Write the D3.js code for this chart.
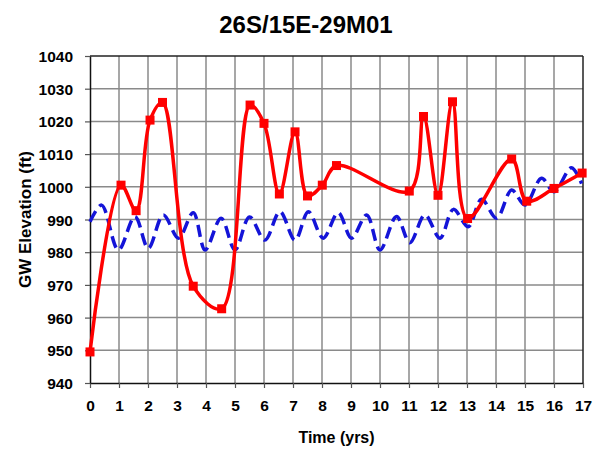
<!DOCTYPE html>
<html><head><meta charset="utf-8">
<script src="https://cdn.jsdelivr.net/npm/d3@7"></script>
<style>body{margin:0;background:#fff}svg{display:block;font-family:"Liberation Sans",Arial,sans-serif}</style>
</head><body><svg id="c" width="603" height="450"></svg>
<script>
const title = "26S/15E-29M01";
const xLabel = "Time (yrs)";
const yLabel = "GW Elevation (ft)";
const xTicks = [0,1,2,3,4,5,6,7,8,9,10,11,12,13,14,15,16,17];
const yTicks = [940,950,960,970,980,990,1000,1010,1020,1030,1040];
// observed water levels (red)
const obsTime = [0,1.07,1.59,2.07,2.5,3.56,4.54,5.52,6.0,6.53,7.07,7.5,8.01,8.5,11.01,11.5,12.0,12.5,13.02,14.54,15.06,16.0,16.97];
const obsElev = [949.5,1000.5,992.7,1020.4,1025.8,969.6,962.7,1025,1019.4,997.8,1016.8,997.2,1000.5,1006.5,998.7,1021.5,997.4,1026,990.3,1008.5,995.6,999.5,1004.2];
// simulated water levels (blue dashed)
const simTime = [0,0.4,0.98,1.55,2.01,2.53,3.05,3.56,3.97,4.52,5.0,5.5,6.03,6.55,7.07,7.53,8.04,8.56,9.02,9.54,10.0,10.57,11.03,11.55,12.07,12.53,13.04,13.5,14.02,14.54,15.0,15.57,16.0,16.6,16.95];
const simElev = [989.3,994.4,980.7,990.9,981.2,991.4,984.3,992.1,980.7,990.4,980.7,990.8,983.7,992.4,983.7,992.4,984.3,992.1,984.3,991.4,980.7,990.9,982.9,991.4,984.3,993.1,987.8,996.2,990.4,999.0,994.4,1002.6,998.5,1005.8,1001];

const svg = d3.select("#c");
const L=90,R=583,T=56,B=383;
const x = d3.scaleLinear().domain([0,17]).range([L,R]);
const y = d3.scaleLinear().domain([940,1040]).range([B,T]);

// grid
const g = svg.append("g");
g.selectAll(".vx").data(xTicks.slice(1,-1)).join("line")
 .attr("x1",d=>x(d)).attr("x2",d=>x(d)).attr("y1",T).attr("y2",B)
 .attr("stroke","#8a8a8a").attr("stroke-width",1.5);
g.selectAll(".hy").data(yTicks.slice(1,-1)).join("line")
 .attr("x1",L).attr("x2",R).attr("y1",d=>y(d)).attr("y2",d=>y(d))
 .attr("stroke","#8a8a8a").attr("stroke-width",1.5);
// frame top/right
svg.append("line").attr("x1",L).attr("x2",R).attr("y1",T).attr("y2",T).attr("stroke","#222").attr("stroke-width",1.5);
svg.append("line").attr("x1",R).attr("x2",R).attr("y1",T).attr("y2",B).attr("stroke","#222").attr("stroke-width",1.5);

// axes
const xa = svg.append("g").attr("transform",`translate(0,${B})`)
 .call(d3.axisBottom(x).tickValues(xTicks).tickFormat(d3.format("d")).tickSize(5).tickPadding(12).tickSizeOuter(0));
const ya = svg.append("g").attr("transform",`translate(${L},0)`)
 .call(d3.axisLeft(y).tickValues(yTicks).tickFormat(d3.format("d")).tickSize(5).tickPadding(12).tickSizeOuter(0));
[xa,ya].forEach(a=>{
  a.select(".domain").attr("stroke","#111").attr("stroke-width",1.5);
  a.selectAll(".tick line").attr("stroke","#555").attr("stroke-width",1.2);
  a.selectAll("text").attr("font-size",15.5).attr("font-weight","bold").attr("fill","#000")
   .attr("font-family","Liberation Sans, Arial, sans-serif");
});
ya.selectAll("text").attr("dy","0.36em");

// blue dashed simulated line
const sim = simTime.map((t,i)=>[t,simElev[i]]);
svg.append("path").datum(sim)
 .attr("d",d3.line().x(d=>x(d[0])).y(d=>y(d[1])).curve(d3.curveCatmullRom.alpha(0.5)))
 .attr("fill","none").attr("stroke","#1414d8").attr("stroke-width",3.5)
 .attr("stroke-dasharray","12,6");

// red observed line
const obs = obsTime.map((t,i)=>[t,obsElev[i]]);
svg.append("path").datum(obs)
 .attr("d",d3.line().x(d=>x(d[0])).y(d=>y(d[1])).curve(d3.curveCatmullRom.alpha(0.5)))
 .attr("fill","none").attr("stroke","#ff0000").attr("stroke-width",3.5);
svg.selectAll(".mk").data(obs).join("rect")
 .attr("x",d=>x(d[0])-4.5).attr("y",d=>y(d[1])-4.5).attr("width",9).attr("height",9)
 .attr("fill","#ff0000");

// titles
svg.append("text").attr("x",306).attr("y",33).attr("text-anchor","middle")
 .attr("font-size",24).attr("font-weight","bold").text(title);
svg.append("text").attr("x",(L+R)/2).attr("y",443).attr("text-anchor","middle")
 .attr("font-size",16).attr("font-weight","bold").text(xLabel);
svg.append("text").attr("transform",`translate(31,${(T+B)/2}) rotate(-90)`).attr("text-anchor","middle")
 .attr("font-size",17).attr("font-weight","bold").text(yLabel);
</script></body></html>
